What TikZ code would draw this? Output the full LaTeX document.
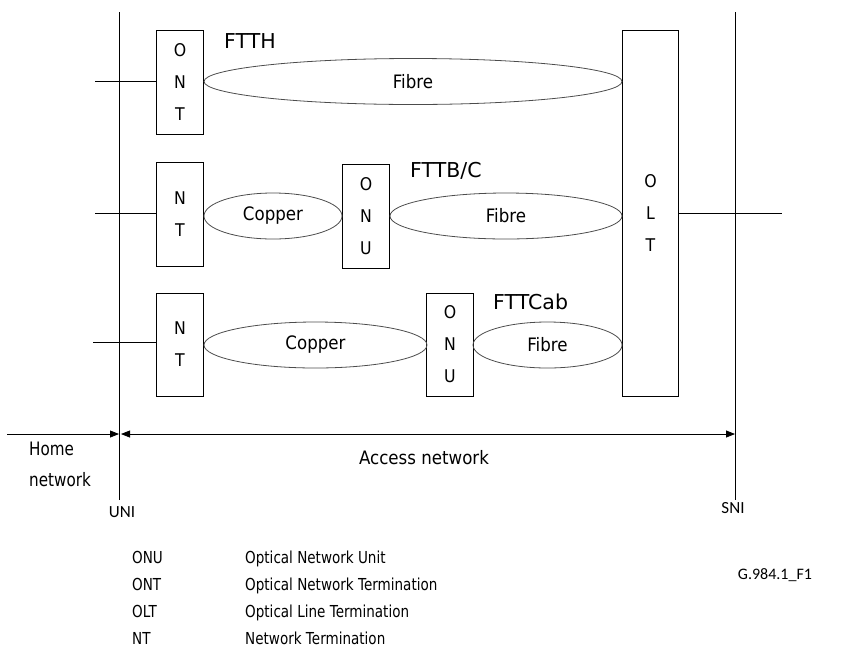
\documentclass[tikz,border=0pt]{standalone}
\usepackage{fontspec}
\setmainfont[FakeStretch=0.9]{DejaVu Sans}
\newfontfamily\tagfont{DejaVu Sans}
\newfontfamily\legendfont[FakeStretch=0.82]{DejaVu Sans}
\newfontfamily\notefont{Carlito}
\usetikzlibrary{shapes.geometric,arrows.meta}
\begin{document}
\begin{tikzpicture}[x=1pt,y=-1pt,
  unit/.style={draw, line width=0.9pt, inner sep=0pt, minimum width=47pt,
    align=center, font=\fontsize{17.5}{32}\selectfont},
  link/.style={ellipse, draw=black!70, line width=0.8pt, inner sep=0pt,
    minimum height=46pt, font=\fontsize{18.5}{22}\selectfont},
  tag/.style={anchor=base west, inner sep=0pt, font=\tagfont\fontsize{20.5}{24}\selectfont},
  wire/.style={line width=0.8pt},
  note/.style={inner sep=0pt, font=\legendfont\fontsize{16.5}{20}\selectfont},
  ifacelabel/.style={inner sep=0pt, font=\notefont\fontsize{17}{20}\selectfont},
  tip/.tip={Triangle[length=9pt,width=7pt]},
  dim/.style={line width=0.8pt}]
\useasboundingbox (0,0) rectangle (842,662);

% reference points (interfaces)
\draw[wire] (119,12) coordinate (unitop) -- (119,500) coordinate (unibot);
\draw[wire] (735,12) coordinate (snitop) -- (735,500) coordinate (snibot);

% network elements
\node[unit, minimum height=104pt] (ont)  at (180,82)    {O\\N\\T};
\node[unit, minimum height=104pt] (nt2)  at (180,214)   {N\\T};
\node[unit, minimum height=104pt] (onu2) at (366,216)   {O\\N\\U};
\node[unit, minimum height=103pt] (nt3)  at (180,344.5) {N\\T};
\node[unit, minimum height=103pt] (onu3) at (450,344.5) {O\\N\\U};
\node[unit, minimum width=56pt, minimum height=366pt] (olt) at (650.5,213) {O\\L\\T};

% transmission media
\node[link, minimum width=418pt] (fib1) at (413,81.5)  {Fibre};
\node[link, minimum width=138pt] (cop2) at (273,216)   {Copper};
\node[link, minimum width=232pt] (fib2) at (506,216)   {Fibre};
\node[link, minimum width=223pt] (cop3) at (315.5,345) {Copper};
\node[link, minimum width=149pt] (fib3) at (547.5,345) {Fibre};

% access type labels
\node[tag] (ftth) at (224,48)  {FTTH};
\node[tag] (fttb) at (410,177) {FTTB/C};
\node[tag] (fttc) at (493,309) {FTTCab};

% user and service side lines
\coordinate (u1) at (95,81);
\coordinate (u2) at (95,213);
\coordinate (u3) at (93,342);
\coordinate (s1) at (782,213);
\draw[wire] (u1) -- (u1 -| ont.west);
\draw[wire] (u2) -- (u2 -| nt2.west);
\draw[wire] (u3) -- (u3 -| nt3.west);
\draw[wire] (olt.east |- s1) -- (s1);

% extent arrows
\coordinate (hl) at (7,434);
\coordinate (ua) at (119,434);
\coordinate (ub) at (121,434);
\coordinate (sa) at (735,434);
\draw[dim, -tip] (hl) -- (ua);
\draw[dim, tip-tip] (ub) -- (sa);

\node[note, anchor=base west, font=\legendfont\fontsize{18.5}{20}\selectfont] (home) at (29,455) {Home};
\node[note, anchor=base west, font=\legendfont\fontsize{18.5}{20}\selectfont] (homen) at (29,486) {network};
\node[note, anchor=base, font=\fontsize{18.5}{20}\selectfont] (acc) at (424,464) {Access network};
\node[ifacelabel, anchor=base] (uni) at (122,517) {UNI};
\node[ifacelabel, anchor=base] (sni) at (733,513) {SNI};
\node[ifacelabel, anchor=base, font=\notefont\fontsize{16}{20}\selectfont] (fig) at (775,579) {G.984.1\_F1};

% legend
\node[note, anchor=base west] (k1) at (132,563) {ONU};
\node[note, anchor=base west] (k2) at (132,590) {ONT};
\node[note, anchor=base west] (k3) at (132,617) {OLT};
\node[note, anchor=base west] (k4) at (132,644) {NT};
\node[note, anchor=base west] (d1) at (245,563) {Optical Network Unit};
\node[note, anchor=base west] (d2) at (245,590) {Optical Network Termination};
\node[note, anchor=base west] (d3) at (245,617) {Optical Line Termination};
\node[note, anchor=base west] (d4) at (245,644) {Network Termination};
\end{tikzpicture}
\end{document}
